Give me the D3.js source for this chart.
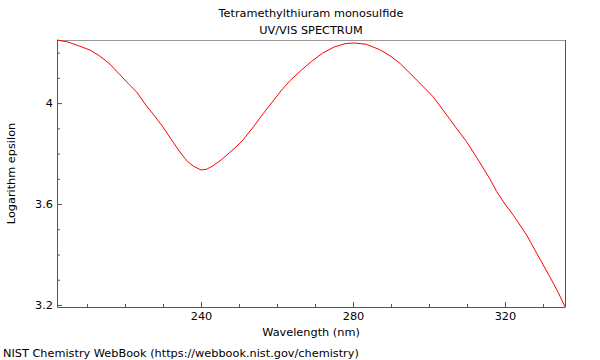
<!DOCTYPE html>
<html><head><meta charset="utf-8">
<script src="https://cdn.jsdelivr.net/npm/d3@7"></script>
<style>body{margin:0;background:#fff}svg{display:block;font-family:"DejaVu Sans",sans-serif}</style>
</head><body>
<svg id="c" width="600" height="360"></svg>
<script>
const wavelength = [202.1,205,208,210.8,213.3,216,218.7,221,223,225.6,228,230,232,233.5,235,236.5,238,240,241.5,243.2,245.5,247.6,249.5,251.1,253.8,256.4,258.8,261.2,263.5,266,269,272,275,278,280.5,283.5,287,290,292.4,295,297.2,301.1,304.7,307,309.9,313,316,317.8,320,322.2,325.7,329.2,331.8,334,335.8];
const logEpsilon = [4.25,4.242,4.226,4.21,4.187,4.155,4.112,4.075,4.045,3.99,3.945,3.905,3.86,3.827,3.795,3.768,3.75,3.735,3.738,3.752,3.777,3.805,3.83,3.855,3.906,3.959,4.005,4.051,4.09,4.125,4.164,4.198,4.222,4.236,4.238,4.233,4.212,4.185,4.157,4.118,4.085,4.025,3.952,3.905,3.847,3.774,3.7,3.65,3.6,3.556,3.477,3.382,3.312,3.25,3.193];
const xMajor = [240,280,320];
const xMinor = [210,220,230,250,260,270,290,300,310,330];
const yMajor = [3.2,3.6,4.0];
const yMinor = [3.3,3.4,3.5,3.7,3.8,3.9,4.1,4.2];
const title = ["Tetramethylthiuram monosulfide","UV/VIS SPECTRUM"];

const L=57,R=565,T=40,B=307,FS=11.3;
const svg=d3.select("#c");
const x=d3.scaleLinear().domain([202.1,335.8]).range([L,R]);
const y=d3.scaleLinear().domain([3.192,4.25]).range([B,T]);

// frame
svg.append("line").attr("x1",L).attr("x2",R).attr("y1",T+0.5).attr("y2",T+0.5).attr("stroke","#999");
svg.append("line").attr("x1",R+0.5).attr("x2",R+0.5).attr("y1",T).attr("y2",B).attr("stroke","#555");

const fmt=d3.format("~g");
const gx=svg.append("g").attr("transform",`translate(0,${B})`)
  .call(d3.axisBottom(x).tickValues(xMajor).tickFormat(fmt).tickSizeInner(-5).tickSizeOuter(0).tickPadding(5));
const gxm=svg.append("g").attr("transform",`translate(0,${B})`)
  .call(d3.axisBottom(x).tickValues(xMinor).tickFormat("").tickSizeInner(-3).tickSizeOuter(0));
const gy=svg.append("g").attr("transform",`translate(${L},0)`)
  .call(d3.axisLeft(y).tickValues(yMajor).tickFormat(fmt).tickSizeInner(-5).tickSizeOuter(0).tickPadding(4));
const gym=svg.append("g").attr("transform",`translate(${L},0)`)
  .call(d3.axisLeft(y).tickValues(yMinor).tickFormat("").tickSizeInner(-3).tickSizeOuter(0));
[gx,gxm,gy,gym].forEach(g=>{
  g.selectAll("path.domain").attr("stroke","#555");
  g.selectAll("line").attr("stroke","#555");
  g.selectAll("text").attr("font-size",FS).attr("fill","#000").attr("font-family","DejaVu Sans");
});
gxm.select("path.domain").remove();
gym.select("path.domain").remove();

// curve
svg.append("path").datum(wavelength.map((w,i)=>[w,logEpsilon[i]]))
  .attr("fill","none").attr("stroke","#ff0000").attr("stroke-width",1)
  .attr("d",d3.line().x(d=>x(d[0])).y(d=>y(d[1])));

// texts
svg.selectAll("text.title").data(title).enter().append("text")
  .attr("x",(L+R)/2).attr("y",(d,i)=>17+i*17).attr("text-anchor","middle")
  .attr("font-size",FS).text(d=>d);
svg.append("text").attr("x",(L+R)/2).attr("y",336).attr("text-anchor","middle").attr("font-size",FS).text("Wavelength (nm)");
svg.append("text").attr("transform",`translate(15,${(T+B)/2}) rotate(-90)`).attr("text-anchor","middle").attr("font-size",FS).text("Logarithm epsilon");
svg.append("text").attr("x",3).attr("y",357).attr("font-size",FS).text("NIST Chemistry WebBook (https://webbook.nist.gov/chemistry)");
</script>
</body></html>
